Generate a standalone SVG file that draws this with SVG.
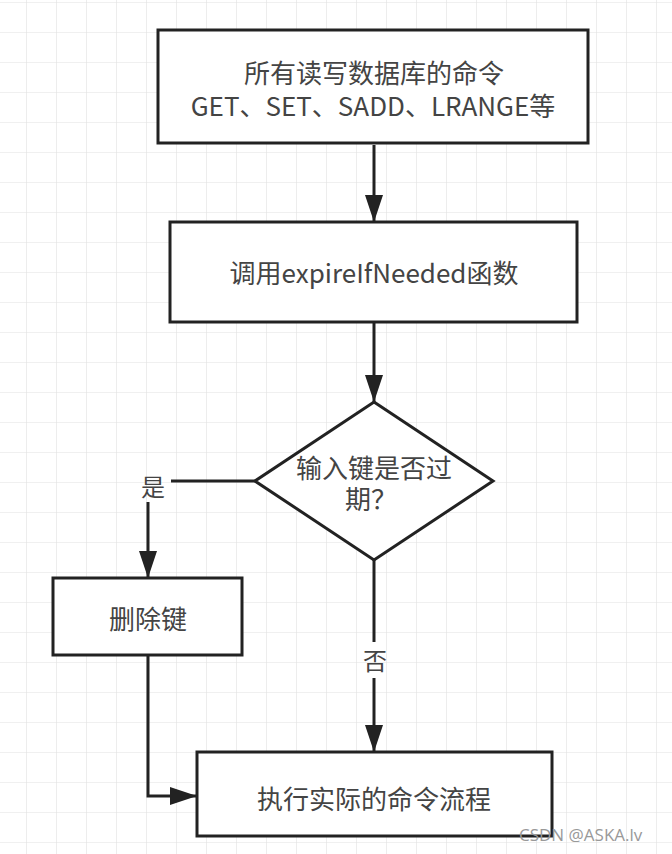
<svg xmlns="http://www.w3.org/2000/svg" width="672" height="854" viewBox="0 0 672 854">
<defs>
<pattern id="grid" x="-3" y="3" width="30" height="30" patternUnits="userSpaceOnUse">
<path d="M30 0V30M0 30H30" fill="none" stroke="#e2e2e2" stroke-width="1.2"/>
</pattern>
<marker id="arr" viewBox="0 0 9 6" refX="9" refY="3" markerWidth="9" markerHeight="6" orient="auto" markerUnits="strokeWidth">
<path d="M0 0L9 3L0 6z" fill="#222"/>
</marker>
</defs>
<style>
.box{fill:#fff;stroke:#222;stroke-width:3}
.t{font-family:"Microsoft YaHei","Noto Sans CJK SC",sans-serif;font-size:26px;fill:#444;text-anchor:middle}
.c{fill:none;stroke:#222;stroke-width:3}
</style>
<rect width="672" height="854" fill="#fff"/>
<rect width="672" height="854" fill="url(#grid)"/>
<g id="connectors">
<path class="c" d="M374 145V222" marker-end="url(#arr)"/>
<path class="c" d="M374 322V402" marker-end="url(#arr)"/>
<path class="c" d="M255 481H171"/>
<path class="c" d="M148 502V578" marker-end="url(#arr)"/>
<path class="c" d="M148 655V796H197" marker-end="url(#arr)"/>
<path class="c" d="M374 560V642"/>
<path class="c" d="M374 678V752" marker-end="url(#arr)"/>
<text class="t" x="153" y="496" style="font-size:24px">是</text>
<text class="t" x="375" y="670" style="font-size:24px">否</text>
</g>
<g id="n1">
<rect class="box" x="158" y="30" width="430" height="113"/>
<text class="t" x="374" y="83">所有读写数据库的命令</text>
<text class="t" x="373" y="116">GET、SET、SADD、LRANGE等</text>
</g>
<g id="n2">
<rect class="box" x="170" y="222" width="407" height="100"/>
<text class="t" x="374" y="283">调用expireIfNeeded函数</text>
</g>
<g id="n3">
<path class="box" d="M374 402L493 481L374 560L255 481Z"/>
<text class="t" x="374" y="478">输入键是否过</text>
<text class="t" x="371" y="509">期？</text>
</g>
<g id="n4">
<rect class="box" x="53" y="578" width="189" height="77"/>
<text class="t" x="148" y="629">删除键</text>
</g>
<g id="n5">
<rect class="box" x="197" y="752" width="355" height="84"/>
<text class="t" x="374" y="809">执行实际的命令流程</text>
</g>
<text x="519" y="841" font-family="'Open Sans',sans-serif" font-size="17" fill="#999">CSDN @ASKA.lv</text>
</svg>
